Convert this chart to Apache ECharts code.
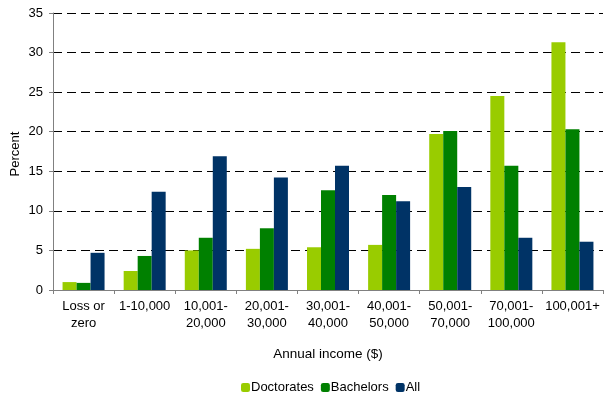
<!DOCTYPE html>
<html><head><meta charset="utf-8">
<script src="https://cdn.jsdelivr.net/npm/echarts@6/dist/echarts.min.js"></script>
<style>html,body{margin:0;padding:0;background:#fff}#c{width:604px;height:401px}</style>
</head><body><div id="c"></div>
<script>
var categories = ['Loss or\nzero','1-10,000','10,001-\n20,000','20,001-\n30,000','30,001-\n40,000','40,001-\n50,000','50,001-\n70,000','70,001-\n100,000','100,001+'];
var doctorates = [1.0, 2.4, 5.0, 5.2, 5.4, 5.7, 19.7, 24.5, 31.3];
var bachelors = [0.9, 4.3, 6.6, 7.8, 12.6, 12.0, 20.1, 15.7, 20.3];
var all = [4.7, 12.4, 16.9, 14.2, 15.7, 11.2, 13.0, 6.6, 6.1];
var yTicks = [0, 5, 10, 15, 20, 25, 30, 35];
var yAxisTitle = 'Percent';

var font = 'Liberation Sans, Arial, sans-serif';
var chart = echarts.init(document.getElementById('c'), null, {renderer:'canvas'});
function s(name, data, color){
  return {name:name, type:'bar', data:data, barWidth:14, barGap:'0%',
    itemStyle:{color:color}, emphasis:{disabled:true}};
}
chart.setOption({
  animation:false,
  textStyle:{fontFamily:font},
  grid:{left:53, right:1, top:13, bottom:111, containLabel:false, outerBoundsMode:'none'},
  graphic:[{type:'text', x:15, y:154, rotation:Math.PI/2,
    style:{text:yAxisTitle, font:'13px ' + font, fill:'#000', align:'center', verticalAlign:'middle'}}],
  legend:{bottom:7, left:241, itemWidth:9, itemHeight:9, itemGap:7, padding:0,
    textStyle:{fontFamily:font, fontSize:13, color:'#000', padding:[0,0,0,-4]},
    data:['Doctorates','Bachelors','All']},
  xAxis:{type:'category', data:categories,
    name:'Annual income ($)', nameLocation:'middle', nameGap:57,
    nameTextStyle:{fontFamily:font, fontSize:13.5, color:'#000'},
    axisLine:{lineStyle:{color:'#808080', width:1}},
    axisTick:{show:true, length:4, alignWithLabel:false, lineStyle:{color:'#808080'}},
    axisLabel:{interval:0, margin:8, fontFamily:font, fontSize:13, color:'#000', lineHeight:17}},
  yAxis:{type:'value', min:yTicks[0], max:yTicks[yTicks.length-1], interval:5,
    axisLine:{show:true, lineStyle:{color:'#808080'}},
    axisTick:{show:true, length:4, lineStyle:{color:'#808080'}},
    axisLabel:{margin:10, fontFamily:font, fontSize:13, color:'#000'},
    splitLine:{show:true, lineStyle:{color:'#000', type:[9,5], width:1}}},
  series:[s('Doctorates', doctorates, '#99CC00'), s('Bachelors', bachelors, '#008000'), s('All', all, '#003366')]
});
</script></body></html>
